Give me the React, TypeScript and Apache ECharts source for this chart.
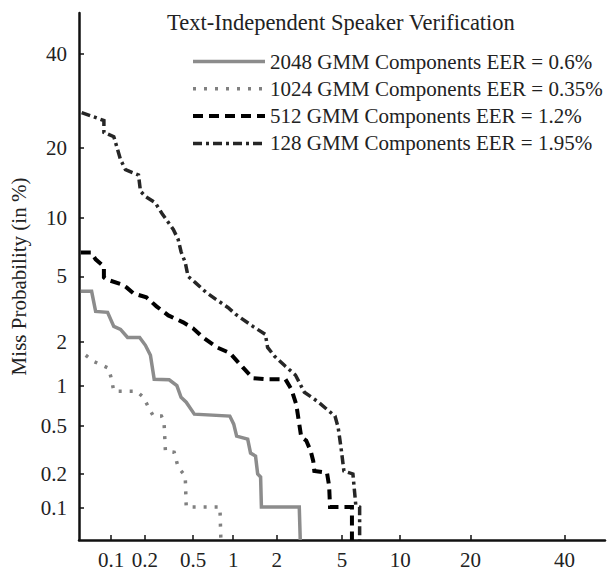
import React, { useEffect, useRef } from "react";
import * as echarts from "echarts";

// ---- data (false alarm %, miss %) ----
const tickLabels = ["0.1", "0.2", "0.5", "1", "2", "5", "10", "20", "40"];
const tickPercents = [0.1, 0.2, 0.5, 1, 2, 5, 10, 20, 40];
const axisMinPercent = 0.05;
const axisMaxPercent = 50;

const seriesNames = [
  "2048 GMM Components EER = 0.6%",
  "1024 GMM Components EER = 0.35%",
  "512 GMM Components EER = 1.2%",
  "128 GMM Components EER = 1.95%",
];

const det2048: [number, number][] = [
  [0.052, 4.11], [0.066, 4.11], [0.072, 3.12], [0.093, 3.08], [0.106, 2.52],
  [0.122, 2.41], [0.141, 2.14], [0.18, 2.14], [0.202, 1.9], [0.223, 1.63],
  [0.24, 1.11], [0.32, 1.1], [0.37, 1.0], [0.4, 0.82], [0.44, 0.755],
  [0.51, 0.613], [0.946, 0.592], [1.01, 0.513], [1.06, 0.412], [1.27, 0.39],
  [1.33, 0.3], [1.44, 0.283], [1.49, 0.2], [1.56, 0.188], [1.58, 0.102],
  [2.79, 0.102], [2.83, 0.05],
];

const det1024: [number, number][] = [
  [0.058, 1.63], [0.069, 1.48], [0.095, 1.33], [0.101, 1.11], [0.106, 0.91],
  [0.169, 0.91], [0.194, 0.822], [0.219, 0.668], [0.236, 0.592], [0.276, 0.592],
  [0.29, 0.54], [0.298, 0.312], [0.352, 0.305], [0.379, 0.228], [0.432, 0.192],
  [0.44, 0.102], [0.8, 0.102], [0.813, 0.05],
];

const det512: [number, number][] = [
  [0.052, 6.75], [0.065, 6.75], [0.072, 6.2], [0.086, 5.68], [0.086, 4.94],
  [0.091, 4.81], [0.126, 4.5], [0.138, 4.33], [0.159, 4.0], [0.206, 3.79],
  [0.251, 3.35], [0.315, 2.95], [0.416, 2.67], [0.498, 2.45], [0.595, 2.14],
  [0.76, 1.84], [0.946, 1.69], [1.17, 1.35], [1.38, 1.13], [1.68, 1.11],
  [2.28, 1.11], [2.49, 0.94], [2.67, 0.73], [2.79, 0.513], [2.87, 0.405],
  [3.08, 0.38], [3.28, 0.312], [3.4, 0.257], [3.45, 0.212], [4.1, 0.205],
  [4.22, 0.157], [4.27, 0.102], [5.67, 0.102], [5.67, 0.05],
];

const det128: [number, number][] = [
  [0.053, 26.7], [0.086, 25.1], [0.086, 22.8], [0.106, 22.0], [0.122, 18.0],
  [0.135, 16.4], [0.176, 15.6], [0.183, 13.3], [0.202, 12.6], [0.245, 11.8],
  [0.28, 10.5], [0.346, 8.83], [0.379, 7.87], [0.4, 6.8], [0.432, 5.97],
  [0.455, 5.0], [0.517, 4.63], [0.628, 4.06], [0.747, 3.69], [0.916, 3.3],
  [1.04, 3.0], [1.38, 2.52], [1.68, 2.24], [1.74, 1.84], [1.93, 1.61],
  [2.28, 1.37], [2.64, 1.19], [3.0, 0.895], [3.59, 0.768], [4.56, 0.592],
  [4.75, 0.485], [4.93, 0.335], [5.12, 0.212], [5.74, 0.2], [5.95, 0.106],
  [6.24, 0.102], [6.24, 0.05],
];

// inverse normal CDF (Acklam) – the DET probit scale
function probit(p: number): number {
  const a = [-3.969683028665376e1, 2.209460984245205e2, -2.759285104469687e2, 1.38357751867269e2, -3.066479806614716e1, 2.506628277459239];
  const b = [-5.447609879822406e1, 1.615858368580409e2, -1.556989798598866e2, 6.680131188771972e1, -1.328068155288572e1];
  const c = [-7.784894002430293e-3, -3.223964580411365e-1, -2.400758277161838, -2.549732539343734, 4.374664141464968, 2.938163982698783];
  const d = [7.784695709041462e-3, 3.224671290700398e-1, 2.445134137142996, 3.754408661907416];
  const plow = 0.02425;
  const phigh = 1 - plow;
  if (p < plow) {
    const q = Math.sqrt(-2 * Math.log(p));
    return (((((c[0] * q + c[1]) * q + c[2]) * q + c[3]) * q + c[4]) * q + c[5]) /
      ((((d[0] * q + d[1]) * q + d[2]) * q + d[3]) * q + 1);
  }
  if (p <= phigh) {
    const q = p - 0.5;
    const r = q * q;
    return ((((((a[0] * r + a[1]) * r + a[2]) * r + a[3]) * r + a[4]) * r + a[5]) * q) /
      (((((b[0] * r + b[1]) * r + b[2]) * r + b[3]) * r + b[4]) * r + 1);
  }
  const q = Math.sqrt(-2 * Math.log(1 - p));
  return -(((((c[0] * q + c[1]) * q + c[2]) * q + c[3]) * q + c[4]) * q + c[5]) /
    ((((d[0] * q + d[1]) * q + d[2]) * q + d[3]) * q + 1);
}

const toProbit = (pts: [number, number][]) => pts.map(([x, y]) => [probit(x / 100), probit(y / 100)]);

const FONT = "'Liberation Serif', 'Times New Roman', serif";

export default function App() {
  const ref = useRef<HTMLDivElement>(null);

  useEffect(() => {
    if (!ref.current) return;
    const chart = echarts.init(ref.current, undefined, { renderer: "svg" });
    const tickProbits = tickPercents.map((t) => probit(t / 100));
    const fmt = (v: number) => {
      const i = tickProbits.findIndex((t) => Math.abs(t - v) < 1e-6);
      return i >= 0 ? tickLabels[i] : "";
    };
    const axisCommon = {
      type: "value" as const,
      min: probit(axisMinPercent / 100),
      max: probit(axisMaxPercent / 100),
      splitLine: { show: false },
      axisLine: { show: true, onZero: false, lineStyle: { color: "#111", width: 2.5 } },
      axisTick: { show: true, inside: true, length: 5, lineStyle: { color: "#111", width: 1.5 }, customValues: tickProbits },
      axisLabel: {
        show: true,
        customValues: tickProbits,
        formatter: fmt,
        color: "#222",
        fontSize: 21,
        fontFamily: FONT,
      },
    };
    const styles = [
      { color: "#8c8c8c", width: 3.5, type: "solid" as any },
      { color: "#808080", width: 3.5, type: [3, 8] as any },
      { color: "#000000", width: 4, type: [10, 6] as any },
      { color: "#262626", width: 3.5, type: [9, 4, 3, 4] as any },
    ];
    const datasets = [det2048, det1024, det512, det128];
    chart.setOption({
      animation: false,
      backgroundColor: "#ffffff",
      title: {
        text: "Text-Independent Speaker Verification",
        left: 162,
        top: 6,
        textStyle: { fontFamily: FONT, fontSize: 22.5, fontWeight: "normal", color: "#222" },
      },
      legend: {
        orient: "vertical",
        left: 186,
        top: 46,
        itemWidth: 72,
        itemHeight: 14,
        itemGap: 6.3,
        data: seriesNames.map((n, i) => ({
          name: n,
          lineStyle: { width: styles[i].width, type: styles[i].type, color: styles[i].color, cap: "butt" },
          itemStyle: { opacity: 0 },
        })),
        textStyle: { fontFamily: FONT, fontSize: 21, color: "#222" },
      },
      grid: { left: 75, right: 3, top: 13, bottom: 29, containLabel: false },
      xAxis: { ...axisCommon, axisLabel: { ...axisCommon.axisLabel, margin: 9 } },
      yAxis: {
        ...axisCommon,
        axisLabel: { ...axisCommon.axisLabel, margin: 12 },
        name: "Miss Probability (in %)",
        nameLocation: "middle",
        nameGap: 50,
        nameTextStyle: { fontFamily: FONT, fontSize: 21, color: "#222" },
      },
      series: datasets.map((d, i) => ({
        name: seriesNames[i],
        type: "line",
        data: toProbit(d),
        symbol: "none",
        lineStyle: { ...styles[i], cap: "butt", join: "miter" },
        itemStyle: { color: styles[i].color },
        clip: true,
      })),
    });
    return () => chart.dispose();
  }, []);

  return <div ref={ref} style={{ position: "fixed", left: 0, top: 0, width: 608, height: 570 }} />;
}
